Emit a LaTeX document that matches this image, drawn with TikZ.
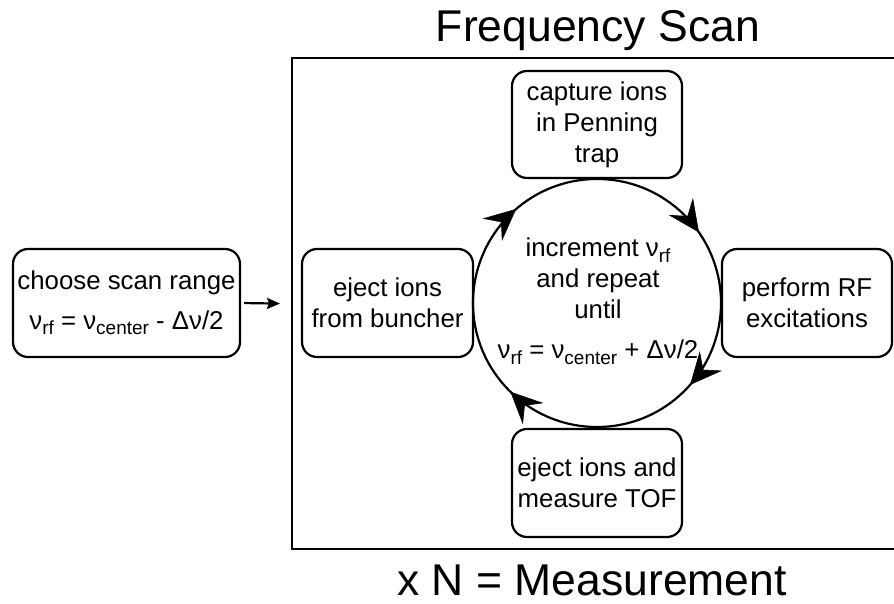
\documentclass[tikz,border=0pt]{standalone}
\usepackage{fontspec}
\setmainfont{Liberation Sans}
\usetikzlibrary{arrows.meta,calc}
\newcommand\sbs[1]{\raisebox{-0.2em}{\fontsize{19}{19}\selectfont #1}}
\tikzset{
  box/.style={draw, line width=2.2pt, rounded corners=15pt, align=center,
    inner sep=0pt, font=\fontsize{25.8}{31}\selectfont},
  big/.style={font=\fontsize{44.5}{50}\selectfont, inner sep=0pt},
  loopline/.style={line width=2.2pt},
  loophead/.style={fill=black, draw=black, line width=0.6pt, line join=miter},
}
\begin{document}
\begin{tikzpicture}[x=1pt,y=-1pt]
\useasboundingbox (0,0) rectangle (894,604);
\node[draw, line width=2.2pt, minimum width=620pt, minimum height=491pt, anchor=north west, inner sep=0pt] (frame) at (291,57) {};
\node[big, anchor=base] (title) at (598,42) {Frequency Scan};
\node[big, anchor=base] (meas) at (592,595) {x N = Measurement};
\node[box, minimum width=227pt, minimum height=108pt] (choose) at (126.5,303) {choose scan range\\[9pt] ν\sbs{rf} = ν\sbs{center} - Δν/2};
\node[box, minimum width=170pt, minimum height=107pt] (capture) at (597,124.5) {capture ions\\in Penning\\trap};
\node[box, minimum width=171pt, minimum height=108pt] (buncher) at (387.5,303) {eject ions\\from buncher};
\node[box, minimum width=170pt, minimum height=108pt] (tof) at (597,483) {eject ions and\\measure TOF};
\node[box, minimum width=170pt, minimum height=108pt] (rf) at (807,303) {perform RF\\excitations};
\node[circle, draw, loopline, minimum size=248pt, inner sep=0pt] (cyc) at (597,303) {};
\node[align=center, inner sep=0pt, font=\fontsize{25.8}{31}\selectfont, anchor=north] (inc) at (598,238) {increment ν\sbs{rf}\\and repeat\\until\\[9pt] ν\sbs{rf} = ν\sbs{center} + Δν/2};
% arrowheads: tip on the circle, pointing clockwise (the y axis points down)
\foreach \a in {-35, 41, 134, 229} {
  \coordinate (T) at ($(cyc.center)+(\a:124)$);
  \fill[loophead] (T)
    -- ($(T)+(\a+90:-30)+(\a:14)$)
    -- ($(T)+(\a+90:-19)$)
    -- ($(T)+(\a+90:-30)+(\a:-14)$)
    -- cycle;
}
\draw[line width=2.2pt, -{Stealth[length=13pt,width=11pt,inset=2pt]}, shorten <=3pt] (choose.east) -- ([xshift=-11pt]frame.west);
\end{tikzpicture}
\end{document}
